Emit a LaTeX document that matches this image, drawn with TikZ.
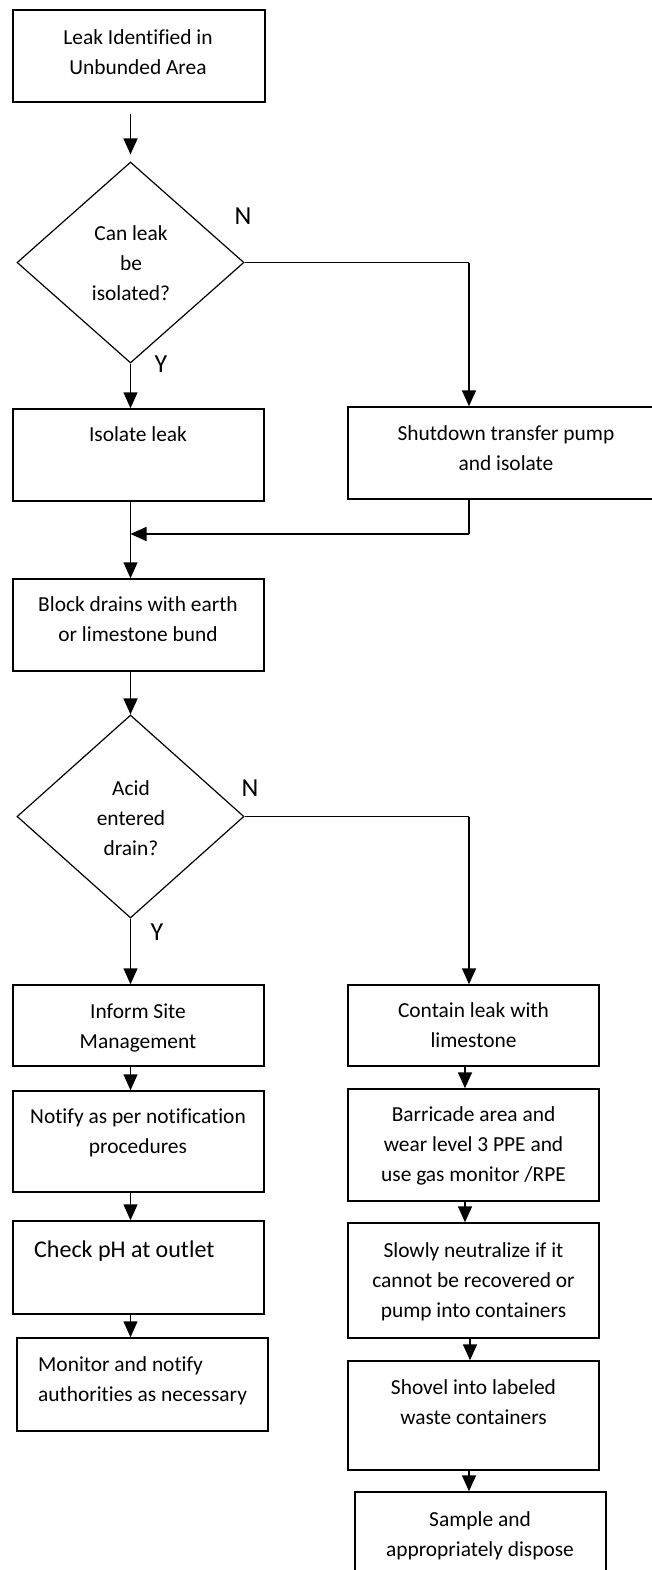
\documentclass[tikz,border=0pt]{standalone}
\usepackage{fontspec}
\setmainfont{Carlito}[Ligatures=NoCommon]
\usetikzlibrary{arrows.meta,shapes.geometric}
\begin{document}
\begin{tikzpicture}[x=1pt,y=-1pt,
  bx/.style={draw, line width=1.5pt, rectangle, inner sep=0pt},
  dm/.style={draw, diamond, line width=1.2pt, inner sep=0pt},
  txt/.style={font=\fontsize{21.4}{30}\selectfont, align=center, inner sep=0pt, anchor=north, yshift=-3.5pt},
  ltxt/.style={txt, align=left, anchor=north west},
  arr/.style={line width=1.6pt, -{Triangle[length=16pt,width=14pt]}},
  ln/.style={line width=1.3pt},
  lbl/.style={font=\fontsize{26}{30}\selectfont, inner sep=0pt}]
\useasboundingbox (0,0) rectangle (652,1570);

% boxes
\node[bx, minimum width=252pt, minimum height=92pt] (b1) at (139,56) {};
\node[txt] (t1) at (138,20) {\strut Leak Identified in\\Unbunded Area};

\node[dm, minimum width=227pt, minimum height=201pt] (d1) at (130.5,262.5) {};
\node[txt] (dt1) at (131,216) {\strut Can leak\\be\\isolated?};
\node[lbl] (n1l) at (243,216) {N};
\node[lbl] (y1l) at (161,364) {Y};

\node[bx, minimum width=251pt, minimum height=92pt] (b2) at (138.5,455) {};
\node[txt] (t2) at (138,417) {\strut Isolate leak};

\node[bx, minimum width=316pt, minimum height=92pt] (b3) at (506,453) {};
\node[txt] (t3) at (506,416) {\strut Shutdown transfer pump\\and isolate};

\node[bx, minimum width=251pt, minimum height=92pt] (b4) at (138.5,625) {};
\node[txt] (t4) at (138,587) {\strut Block drains with earth\\or limestone bund};

\node[dm, minimum width=227pt, minimum height=203pt] (d2) at (130.5,816.5) {};
\node[txt] (dt2) at (131,771) {\strut Acid\\entered\\drain?};
\node[lbl] (n2l) at (250,788) {N};
\node[lbl] (y2l) at (157,932) {Y};

\node[bx, minimum width=251pt, minimum height=81pt] (b5) at (138.5,1025.5) {};
\node[txt] (t5) at (138,994) {\strut Inform Site\\Management};

\node[bx, minimum width=251pt, minimum height=81pt] (b6) at (473.5,1025.5) {};
\node[txt] (t6) at (473.5,993) {\strut Contain leak with\\limestone};

\node[bx, minimum width=251pt, minimum height=101pt] (b7) at (138.5,1141.5) {};
\node[txt] (t7) at (138,1099) {\strut Notify as per notification\\procedures};

\node[bx, minimum width=251pt, minimum height=112pt] (b8) at (473.5,1145) {};
\node[txt] (t8) at (473.5,1097) {\strut Barricade area and\\wear level 3 PPE and\\use gas monitor /RPE};

\node[bx, minimum width=251pt, minimum height=93pt] (b9) at (138.5,1267.5) {};
\node[ltxt, font=\fontsize{24}{30}\selectfont, yshift=2.5pt] (t9) at (34,1235) {\strut Check pH at outlet};

\node[bx, minimum width=251pt, minimum height=115pt] (b10) at (473.5,1280.5) {};
\node[txt] (t10) at (473.5,1233) {\strut Slowly neutralize if it\\cannot be recovered or\\pump into containers};

\node[bx, minimum width=251pt, minimum height=93pt] (b11) at (142.5,1384.5) {};
\node[ltxt] (t11) at (38,1347) {\strut Monitor and notify\\authorities as necessary};

\node[bx, minimum width=251pt, minimum height=109pt] (b12) at (473.5,1415.5) {};
\node[txt] (t12) at (473.5,1370) {\strut Shovel into labeled\\waste containers};

\node[bx, minimum width=251pt, minimum height=110pt] (b13) at (480.5,1547) {};
\node[txt] (t13) at (480,1502) {\strut Sample and\\appropriately dispose};

% connectors
\draw[arr, shorten <=11pt, shorten >=7pt] (d1.north |- b1.south) -- (d1.north);
\coordinate (c1) at (469,262.5);
\draw[ln] (d1.east) -- (c1);
\draw[arr] (c1) -- (c1 |- b3.north);
\draw[arr] (d1.south) -- (d1.south |- b2.north);
\draw[arr] (d1.south |- b2.south) -- (d1.south |- b4.north);
\coordinate (m1) at (469,534);
\draw[ln] (c1 |- b3.south) -- (m1);
\draw[arr] (m1) -- (d1.south |- m1);
\draw[arr] (d1.south |- b4.south) -- (d2.north);

\coordinate (c2) at (469,816.5);
\draw[ln] (d2.east) -- (c2);
\draw[arr] (c2) -- (c2 |- b6.north);
\draw[arr] (d2.south) -- (d2.south |- b5.north);
\draw[arr] (d2.south |- b5.south) -- (d2.south |- b7.north);
\draw[arr] (d2.south |- b7.south) -- (d2.south |- b9.north);
\draw[arr] (d2.south |- b9.south) -- (d2.south |- b11.north);

\draw[arr] ([xshift=-8.5pt]b6.south) -- ([xshift=-8.5pt]b8.north);
\draw[arr] ([xshift=-8.5pt]b8.south) -- ([xshift=-8.5pt]b10.north);
\draw[arr] ([xshift=-3.5pt]b10.south) -- ([xshift=-3.5pt]b12.north);
\draw[arr] ([xshift=-4.5pt]b12.south) -- ([xshift=-11.5pt]b13.north);
\end{tikzpicture}
\end{document}
